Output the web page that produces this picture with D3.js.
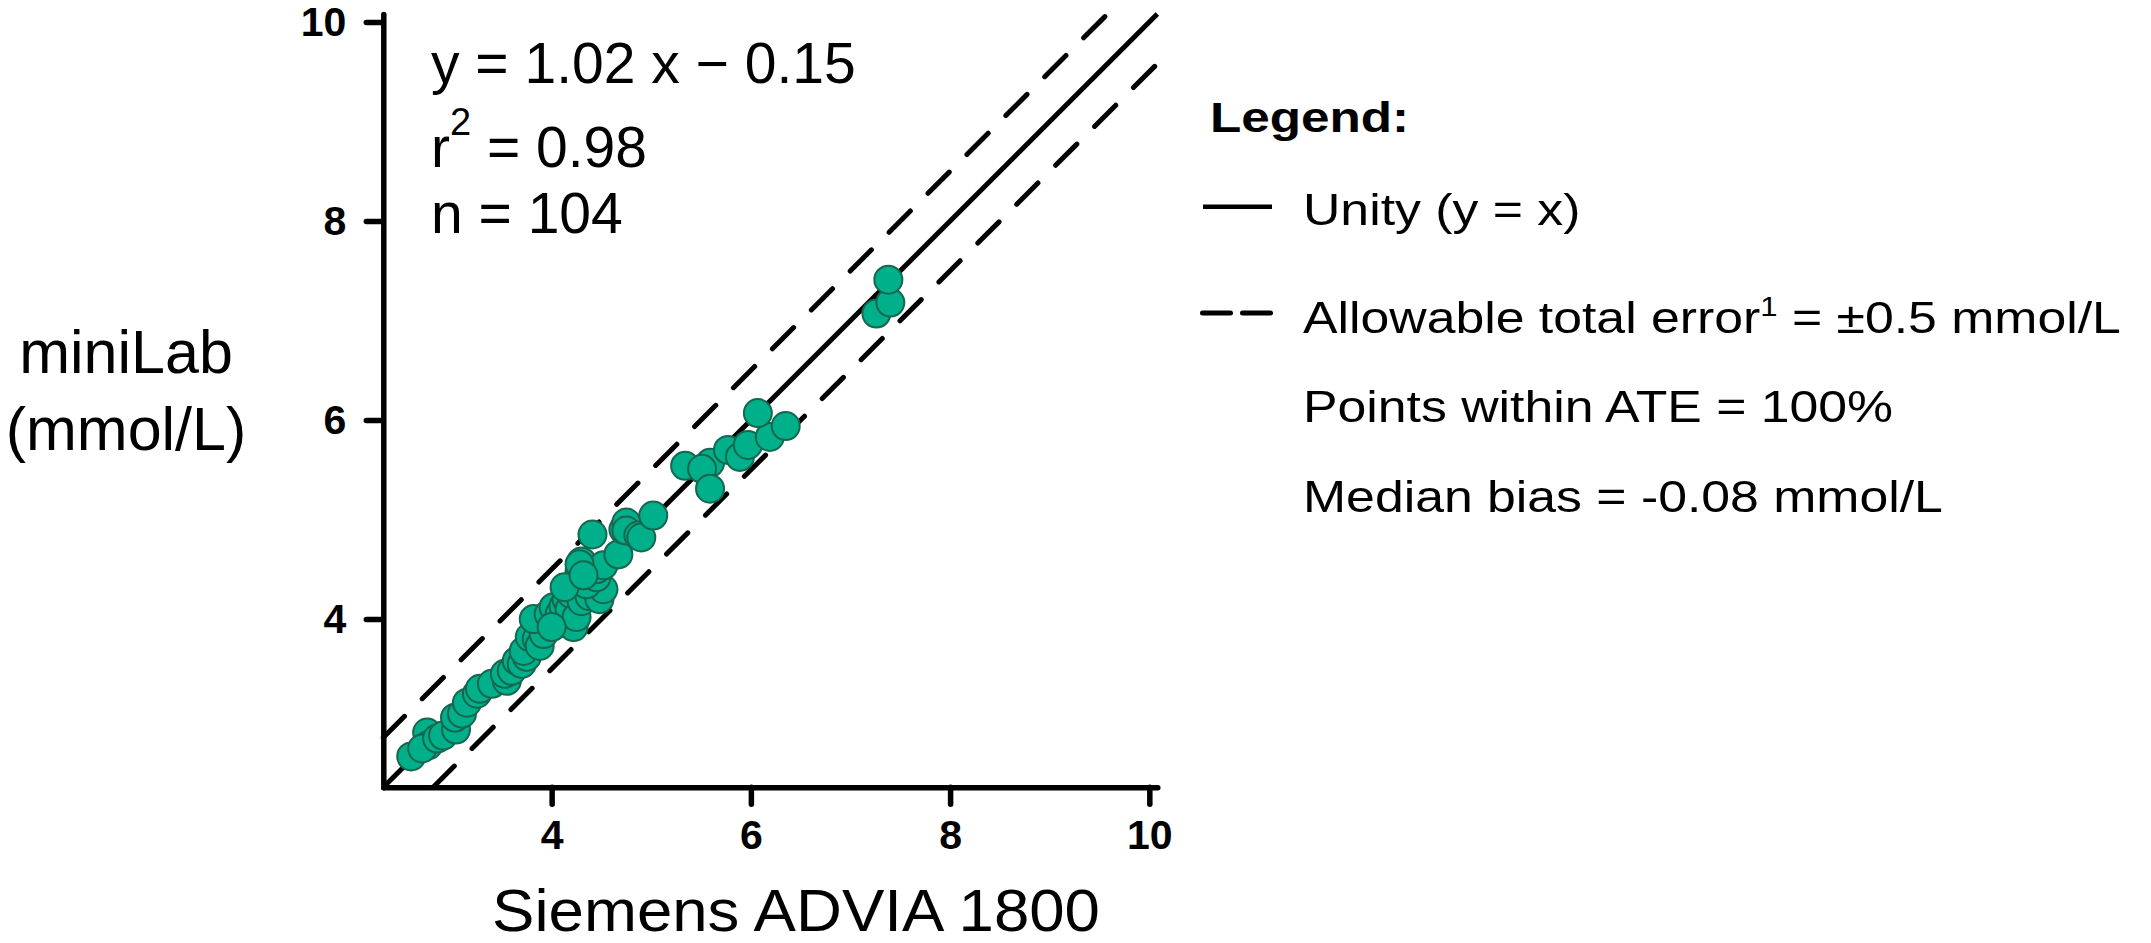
<!DOCTYPE html>
<html lang="en">
<head>
    <meta charset="UTF-8">
    <title>miniLab vs Siemens ADVIA 1800</title>
    <script src="https://d3js.org/d3.v7.min.js"></script>
    <style>
        body { margin: 0; background: #fff; }
        text { font-family: "Liberation Sans", Arial, sans-serif; fill: #000; }
    </style>
</head>
<body>
    <script>
        // Siemens ADVIA 1800 (x) vs miniLab (y), mmol/L
        const siemens = [2.59, 2.75, 2.76, 2.70, 2.85, 2.91, 3.04, 3.03, 3.10, 3.15, 3.25, 3.28,
            3.40, 3.55, 3.53, 3.60, 3.65, 3.70, 3.75, 3.72, 3.78, 3.85, 3.88, 3.92, 3.95, 3.82,
            3.97, 4.02, 4.05, 4.08, 4.12, 4.15, 4.18, 4.20, 4.22, 4.25, 4.30, 4.38, 4.48, 4.52,
            4.35, 4.45, 4.45, 4.28, 4.30, 4.52, 4.13, 4.28, 4.32, 4.00, 4.67, 4.72, 4.75, 4.75,
            4.87, 4.90, 4.41, 5.02, 5.34, 5.59, 5.51, 5.59, 5.77, 5.89, 5.97, 6.19, 6.35, 6.07,
            7.26, 7.40, 7.38];
        const minilab = [2.62, 2.86, 2.73, 2.70, 2.80, 2.83, 2.89, 3.01, 3.05, 3.16, 3.25, 3.30,
            3.35, 3.38, 3.45, 3.48, 3.58, 3.55, 3.62, 3.68, 3.82, 3.80, 3.73, 3.85, 3.98, 4.00,
            4.05, 4.12, 3.95, 4.05, 4.13, 4.20, 4.10, 4.25, 3.92, 4.02, 4.18, 4.23, 4.20, 4.30,
            4.35, 4.42, 4.50, 4.48, 4.58, 4.54, 4.32, 4.55, 4.44, 3.92, 4.65, 4.90, 4.97, 4.89,
            4.84, 4.82, 4.85, 5.04, 5.54, 5.57, 5.51, 5.31, 5.70, 5.63, 5.75, 5.83, 5.94, 6.07,
            7.07, 7.18, 7.41];

        const ticks = [4, 6, 8, 10];
        const ate = 0.5;           // allowable total error, +/- mmol/L
        const statLines = ["y = 1.02 x \u2212 0.15", "r|2| = 0.98", "n = 104"];
        const legendItems = [
            { type: "solid", label: "Unity (y = x)" },
            { type: "dash", label: "Allowable total error|1| = \u00b10.5 mmol/L" },
            { type: "none", label: "Points within ATE = 100%" },
            { type: "none", label: "Median bias = -0.08 mmol/L" }
        ];

        const W = 2151, H = 943;
        const svg = d3.select("body").append("svg")
            .attr("width", W)
            .attr("height", H);

        // scales: both axes start at the same corner value
        const x = d3.scaleLinear().domain([2.31, 10.08]).range([383.3, 1157.3]);
        const y = d3.scaleLinear().domain([2.31, 10.08]).range([787.3, 14]);

        // reference lines
        const lo = x.domain()[0], hi = x.domain()[1];
        const refLines = [
            { pts: [[lo, lo], [hi, hi]], dash: null },
            { pts: [[lo, lo + ate], [hi - ate, hi]], dash: "30,25" },
            { pts: [[lo + ate, lo], [hi, hi - ate]], dash: "30,25" }
        ];
        svg.selectAll("line.ref")
            .data(refLines)
            .enter().append("line")
            .attr("class", "ref")
            .attr("x1", d => x(d.pts[0][0]))
            .attr("y1", d => y(d.pts[0][1]))
            .attr("x2", d => x(d.pts[1][0]))
            .attr("y2", d => y(d.pts[1][1]))
            .attr("stroke", "#000")
            .attr("stroke-width", 5)
            .attr("stroke-linecap", d => d.dash ? "round" : "butt")
            .attr("stroke-dasharray", d => d.dash);

        // points
        const data = siemens.map((v, i) => ({ x: v, y: minilab[i] }));
        svg.selectAll("circle")
            .data(data)
            .enter().append("circle")
            .attr("cx", d => x(d.x))
            .attr("cy", d => y(d.y))
            .attr("r", 14)
            .attr("fill", "#00b08a")
            .attr("stroke", "#17664f")
            .attr("stroke-width", 2);

        // axes
        const xAxis = svg.append("g")
            .attr("transform", `translate(0,${y.range()[0]})`)
            .call(d3.axisBottom(x).tickValues(ticks).tickSize(17).tickSizeOuter(0).tickPadding(16));
        const yAxis = svg.append("g")
            .attr("transform", `translate(${x.range()[0]},0)`)
            .call(d3.axisLeft(y).tickValues(ticks).tickSize(17).tickSizeOuter(0).tickPadding(20));

        [xAxis, yAxis].forEach(ax => {
            ax.select(".domain")
                .attr("stroke-width", 5.5)
                .attr("stroke-linecap", "round");
            ax.selectAll(".tick line")
                .attr("stroke-width", 5.5)
                .attr("stroke-linecap", "round");
            ax.selectAll(".tick text")
                .attr("font-family", "'Liberation Sans', Arial, sans-serif")
                .attr("font-size", 41)
                .attr("font-weight", "bold");
        });

        // axis titles
        svg.append("text")
            .attr("transform", "translate(796,931) scale(1.06,1)")
            .attr("text-anchor", "middle")
            .attr("font-size", 60)
            .text("Siemens ADVIA 1800");

        const yTitle = svg.append("text")
            .attr("text-anchor", "middle")
            .attr("font-size", 61);
        yTitle.append("tspan").attr("x", 126).attr("y", 373).text("miniLab");
        yTitle.append("tspan").attr("x", 126).attr("y", 450).text("(mmol/L)");

        // writes "a|sup|b" with the middle piece raised
        function richText(sel, str, size, supSize, lift) {
            const parts = str.split("|");
            parts.forEach((p, i) => {
                const t = sel.append("tspan").text(p);
                if (i % 2 === 1) {
                    t.attr("font-size", supSize).attr("dy", -lift);
                } else if (i > 0) {
                    t.attr("font-size", size).attr("dy", lift);
                }
            });
        }

        // regression stats
        const statY = [83.3, 166.7, 233.3];
        statLines.forEach((s, i) => {
            const t = svg.append("text")
                .attr("x", 431)
                .attr("y", statY[i])
                .attr("font-size", 57);
            richText(t, s, 57, 38, 32);
        });

        // legend
        svg.append("text")
            .attr("transform", "translate(1210,131.7) scale(1.22,1)")
            .attr("font-size", 42)
            .attr("font-weight", "bold")
            .text("Legend:");

        const legendY = [225, 333, 422, 512];
        legendItems.forEach((d, i) => {
            const base = legendY[i];
            if (d.type === "solid") {
                svg.append("line")
                    .attr("x1", 1203).attr("x2", 1272)
                    .attr("y1", base - 18.3).attr("y2", base - 18.3)
                    .attr("stroke", "#000").attr("stroke-width", 4.5);
            } else if (d.type === "dash") {
                svg.append("line")
                    .attr("x1", 1202.5).attr("x2", 1275)
                    .attr("y1", base - 20).attr("y2", base - 20)
                    .attr("stroke", "#000").attr("stroke-width", 5)
                    .attr("stroke-linecap", "round")
                    .attr("stroke-dasharray", "28,12");
            }
            const t = svg.append("text")
                .attr("transform", `translate(1303,${base}) scale(1.15,1)`)
                .attr("font-size", 45);
            richText(t, d.label, 45, 27, 17);
        });
    </script>
</body>
</html>
